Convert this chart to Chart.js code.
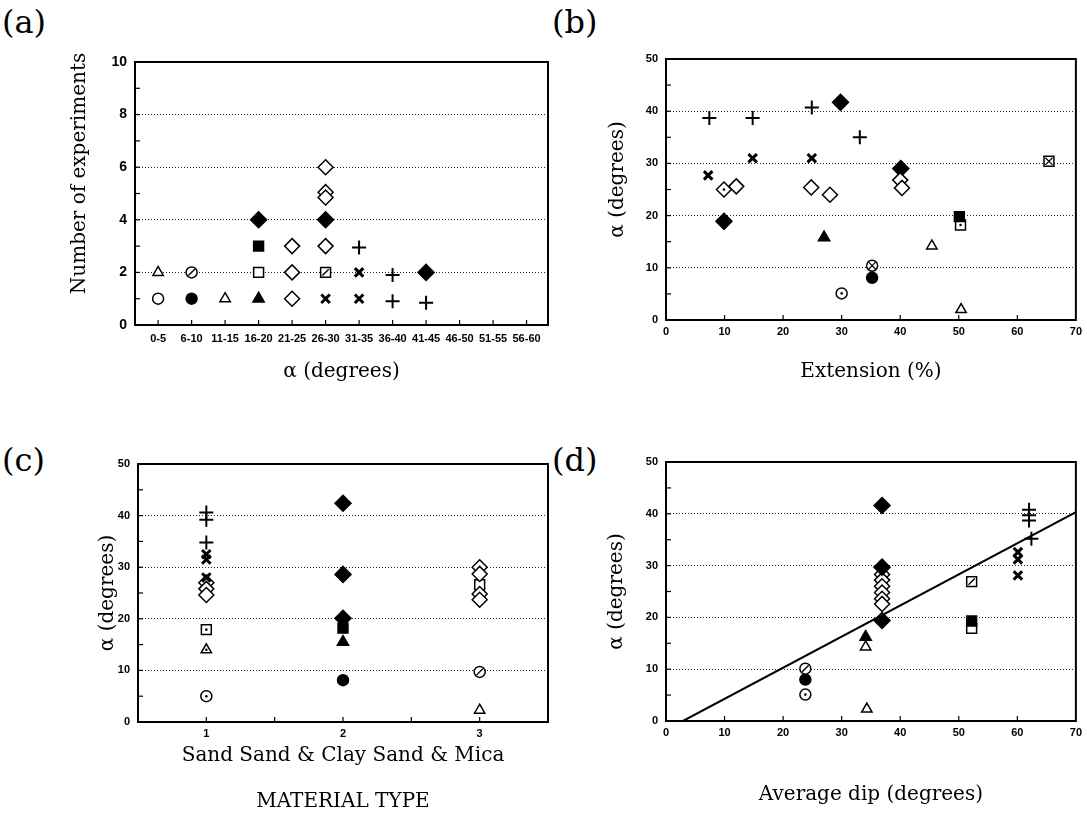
<!DOCTYPE html>
<html><head><meta charset="utf-8">
<script src="https://cdn.jsdelivr.net/npm/chart.js@4/dist/chart.umd.min.js"></script>
<style>
html,body{margin:0;padding:0;background:#fff;width:1087px;height:825px;overflow:hidden;position:relative;}
canvas{position:absolute;}
.lbl{position:absolute;font-family:'DejaVu Serif',serif;font-size:32px;color:#000;line-height:1;}
</style></head><body>
<div class="lbl" style="left:2px;top:6px">(a)</div>
<div class="lbl" style="left:552px;top:6px">(b)</div>
<div class="lbl" style="left:2px;top:444px">(c)</div>
<div class="lbl" style="left:552px;top:444px">(d)</div>
<canvas id="ca" width="560" height="420" style="left:0;top:0"></canvas>
<canvas id="cb" width="527" height="420" style="left:560px;top:0"></canvas>
<canvas id="cc" width="560" height="405" style="left:0;top:420px"></canvas>
<canvas id="cd" width="527" height="405" style="left:560px;top:420px"></canvas>
<script>
// ---------------- DATA ----------------
// (a) histogram of alpha classes: x = class index, y = number of experiments
const aCategories = ['0-5','6-10','11-15','16-20','21-25','26-30','31-35','36-40','41-45','46-50','51-55','56-60'];
const aOpenCircle = [[0,1]];
const aFilledCircle = [[1,1]];
const aSlashCircle = [[1,2]];
const aOpenTriangle = [[0,2],[2,1]];
const aFilledTriangle = [[3,1]];
const aOpenSquare = [[3,2]];
const aSlashSquare = [[5,2]];
const aFilledSquare = [[3,3]];
const aOpenDiamond = [[4,1],[4,2],[4,3],[5,3],[5,5.05],[5,4.85],[5,6]];
const aFilledDiamond = [[3,4],[5,4],[8,2]];
const aCrossX = [[5,1],[6,1],[6,2]];
const aPlus = [[6,2.95],[7,0.9],[7,1.9],[8,0.85]];

// (b) alpha vs extension (%)
const bPlus = [[7.4,38.7],[14.8,38.7],[24.9,40.7],[33.1,35.0]];
const bCrossX = [[7.2,27.7],[14.8,31.0],[24.9,31.0]];
const bOpenDiamond = [[12.0,25.6],[24.8,25.4],[28.0,24.0],[40.0,26.8],[40.3,25.3]];
const bDotDiamond = [[9.9,25.0]];
const bFilledDiamond = [[29.8,41.7],[40.1,29.0],[9.9,18.9]];
const bFilledTriangle = [[27.0,15.8]];
const bFilledSquare = [[50.1,19.8]];
const bDotSquare = [[50.3,18.2]];
const bXSquare = [[65.4,30.4]];
const bOpenTriangle = [[45.4,14.2],[50.4,2.0]];
const bXCircle = [[35.2,10.4]];
const bFilledCircle = [[35.2,8.1]];
const bDotCircle = [[30.0,5.1]];

// (c) alpha vs material type (1 Sand, 2 Sand & Clay, 3 Sand & Mica)
const cPlus = [[1,40.6],[1,39.2],[1,34.8]];
const cCrossX = [[1,32.5],[1,31.5],[1,28.0]];
const cOpenDiamond = [[1,27.0],[1,25.8],[1,24.6],[3,30.0],[3,28.7],[3,24.8],[3,23.7]];
const cOpenSquare = [[3,26.6]];
const cDotSquare = [[1,17.9]];
const cDotTriangle = [[1,14.0]];
const cDotCircle = [[1,5.0]];
const cFilledDiamond = [[2,42.4],[2,28.6],[2,20.1]];
const cFilledSquare = [[2,18.2]];
const cFilledTriangle = [[2,15.5]];
const cFilledCircle = [[2,8.1]];
const cSlashCircle = [[3,9.7]];
const cOpenTriangle = [[3,2.3]];

// (d) alpha vs average dip
const dFilledDiamond = [[36.9,41.6],[36.9,29.7],[36.9,19.4]];
const dPlus = [[62.0,40.8],[62.0,39.7],[62.0,38.7],[62.4,35.2]];
const dCrossX = [[60.1,32.6],[60.1,31.2],[60.1,28.1]];
const dOpenDiamond = [[36.9,28.3],[36.9,27.2],[36.9,26.0],[36.9,24.8],[36.9,23.6],[36.9,22.6]];
const dSlashSquare = [[52.2,26.9]];
const dFilledSquare = [[52.2,19.3]];
const dOpenSquare = [[52.2,17.9]];
const dFilledTriangle = [[34.1,16.2]];
const dOpenTriangle = [[34.1,14.3],[34.3,2.3]];
const dSlashCircle = [[23.8,10.1]];
const dFilledCircle = [[23.8,8.0]];
const dDotCircle = [[23.8,5.1]];
const dFitLine = [[2.9,0],[70,40.3]];

// ---------------- STYLES ----------------
const L = {
  oc:{ps:'circle',r:5.5,fill:'#fff',bw:1.5}, fc:{ps:'circle',r:5.5,fill:'#000',bw:1.5},
  ot:{ps:'triangle',r:6,fill:'#fff',bw:1.5}, ft:{ps:'triangle',r:6.5,fill:'#000',bw:1.5},
  os:{ps:'rect',r:7,fill:'#fff',bw:1.5}, fs:{ps:'rect',r:7,fill:'#000',bw:1.5},
  od:{ps:'rectRot',r:7.5,fill:'#fff',bw:1.5}, fd:{ps:'rectRot',r:8,fill:'#000',bw:1.5},
  x:{ps:'crossRot',r:6,fill:'#000',bw:3}, p:{ps:'cross',r:7,fill:'#000',bw:2},
  dot:{ps:'circle',r:1.3,fill:'#000',bw:0}, sl:{ps:'line',r:4.5,fill:'#000',bw:1.4,rot:-45},
  xin:{ps:'crossRot',r:5,fill:'#000',bw:1.2}
};
const M = {
  openCircle:[L.oc], filledCircle:[L.fc], dotCircle:[L.oc,L.dot], slashCircle:[L.oc,L.sl], xCircle:[L.oc,L.xin],
  openTriangle:[L.ot], filledTriangle:[L.ft], dotTriangle:[L.ot,L.dot],
  openSquare:[L.os], filledSquare:[L.fs], dotSquare:[L.os,L.dot], slashSquare:[L.os,L.sl], xSquare:[L.os,L.xin],
  openDiamond:[L.od], filledDiamond:[L.fd], dotDiamond:[L.od,L.dot],
  crossX:[L.x], plus:[L.p]
};
function build(series){
  const ds=[];
  series.forEach(([key,pts])=>{
    M[key].forEach((ly,i)=>{
      ds.push({type:'scatter',data:pts.map(p=>({x:p[0],y:p[1]})),pointStyle:ly.ps,pointRadius:ly.r,pointHoverRadius:ly.r,
        pointBackgroundColor:ly.fill,pointBorderColor:'#000',pointBorderWidth:ly.bw,pointRotation:ly.rot||0,showLine:false,order:i===0?2:1});
    });
  });
  return ds;
}
const tickFont = {family:"'Liberation Sans', Arial, sans-serif", weight:'bold', size:11};
const titleFont = {family:"'DejaVu Serif', serif", size:20};

const frame = {
  id:'frame',
  afterDraw(chart){
    const {ctx, chartArea:a} = chart;
    ctx.save(); ctx.strokeStyle='#000'; ctx.lineWidth=1.2;
    const xs=chart.scales.x, ys=chart.scales.y;
    xs.ticks.forEach(t=>{const p=xs.getPixelForValue(t.value); if(p<=a.left+2||p>=a.right-2) return;
      ctx.beginPath(); ctx.moveTo(p,a.bottom); ctx.lineTo(p,a.bottom-5); ctx.stroke();});
    ys.ticks.forEach(t=>{const p=ys.getPixelForValue(t.value); if(p>=a.bottom-2||p<=a.top+2) return;
      ctx.beginPath(); ctx.moveTo(a.left,p); ctx.lineTo(a.left+5,p); ctx.stroke();});
    ctx.lineWidth=2; ctx.strokeRect(a.left,a.top,a.right-a.left,a.bottom-a.top);
    ctx.restore();
  }
};

function yAxis(max, step, labelEvery, width, title, padTop, tsize){
  return {
    min:0, max:max,
    afterFit(s){ s.width = width; },
    ticks:{stepSize:step, color:'#000', font:Object.assign({},tickFont,{size:tsize}), padding:8,
      callback:v=> (Math.abs(v % labelEvery) < 1e-9 ? String(v) : '')},
    grid:{drawTicks:false, lineWidth:1,
      color:c=>{const v=c.tick?c.tick.value:0; return (Math.abs(v%labelEvery)<1e-9 && v>0 && v<max) ? '#222' : 'rgba(0,0,0,0)';}},
    border:{display:true,color:'#000',width:2,dash:[1,2]},
    title:{display:true,text:title,color:'#000',font:titleFont,padding:{top:padTop,bottom:0}}
  };
}

function makeChart(id, datasets, xOpts, yOpts, pad){
  return new Chart(document.getElementById(id), {
    type:'scatter',
    data:{datasets},
    options:{
      responsive:false, animation:false, devicePixelRatio:1,
      layout:{padding:pad},
      plugins:{legend:{display:false}, tooltip:{enabled:false}},
      scales:{x:xOpts, y:yOpts}
    },
    plugins:[frame]
  });
}

// (a)
makeChart('ca', build([
  ['openCircle',aOpenCircle],['filledCircle',aFilledCircle],['slashCircle',aSlashCircle],
  ['openTriangle',aOpenTriangle],['filledTriangle',aFilledTriangle],['openSquare',aOpenSquare],
  ['slashSquare',aSlashSquare],['filledSquare',aFilledSquare],['openDiamond',aOpenDiamond],
  ['filledDiamond',aFilledDiamond],['crossX',aCrossX],['plus',aPlus]
]), {
  type:'linear', min:-0.69, max:11.64,
  afterFit(s){ s.height = 95; },
  afterBuildTicks(s){ s.ticks = aCategories.map((c,i)=>({value:i})); },
  ticks:{color:'#000', font:tickFont, padding:7, autoSkip:false, maxRotation:0, minRotation:0,
    callback:v=>aCategories[Math.round(v)]},
  grid:{drawOnChartArea:false, drawTicks:false},
  border:{display:true,color:'#000',width:2},
  title:{display:true,text:'α (degrees)',color:'#000',font:titleFont,padding:{top:0,bottom:36}}
}, yAxis(10,1,2,135,'\u2003\u2003Number of experiments',68,14), {left:0,top:62,right:12,bottom:0});

// (b)
function xLin(height, title, pb){
  return {
    type:'linear', min:0, max:70,
    afterFit(s){ s.height = height; },
    ticks:{stepSize:10, color:'#000', font:tickFont, padding:5, maxRotation:0},
    grid:{drawOnChartArea:false, drawTicks:false},
    border:{display:true,color:'#000',width:2},
    title:{display:true,text:title,color:'#000',font:titleFont,padding:{top:0,bottom:pb}}
  };
}
makeChart('cb', build([
  ['plus',bPlus],['crossX',bCrossX],['openDiamond',bOpenDiamond],['dotDiamond',bDotDiamond],
  ['filledDiamond',bFilledDiamond],['filledTriangle',bFilledTriangle],['filledSquare',bFilledSquare],
  ['dotSquare',bDotSquare],['xSquare',bXSquare],['openTriangle',bOpenTriangle],['xCircle',bXCircle],
  ['filledCircle',bFilledCircle],['dotCircle',bDotCircle]
]), xLin(100,'Extension (%)',36), yAxis(50,5,10,106,'\u2003α (degrees)',46,11), {left:0,top:59,right:9,bottom:0});

// (c)
const cTicks = [1,1.5,2,2.5,3];
makeChart('cc', build([
  ['plus',cPlus],['crossX',cCrossX],['openDiamond',cOpenDiamond],['openSquare',cOpenSquare],
  ['dotSquare',cDotSquare],['dotTriangle',cDotTriangle],['dotCircle',cDotCircle],
  ['filledDiamond',cFilledDiamond],['filledSquare',cFilledSquare],['filledTriangle',cFilledTriangle],
  ['filledCircle',cFilledCircle],['slashCircle',cSlashCircle],['openTriangle',cOpenTriangle]
]), {
  type:'linear', min:0.5, max:3.5,
  afterFit(s){ s.height = 103; },
  afterBuildTicks(s){ s.ticks = cTicks.map(v=>({value:v})); },
  ticks:{color:'#000', font:tickFont, padding:5, autoSkip:false, maxRotation:0,
    callback:v=> Number.isInteger(v) ? String(v) : ''},
  grid:{drawOnChartArea:false, drawTicks:false},
  border:{display:true,color:'#000',width:2},
  title:{display:true,text:['Sand Sand & Clay Sand & Mica','MATERIAL TYPE'],color:'#000',
    font:Object.assign({},titleFont,{lineHeight:2.3}),padding:{top:0,bottom:0}}
}, yAxis(50,5,10,138,'α (degrees)',96,11), {left:0,top:44,right:12,bottom:0});

// (d)
const dDatasets = build([
  ['filledDiamond',dFilledDiamond],['plus',dPlus],['crossX',dCrossX],['openDiamond',dOpenDiamond],
  ['slashSquare',dSlashSquare],['filledSquare',dFilledSquare],['openSquare',dOpenSquare],
  ['filledTriangle',dFilledTriangle],['openTriangle',dOpenTriangle],['slashCircle',dSlashCircle],
  ['filledCircle',dFilledCircle],['dotCircle',dDotCircle]
]);
dDatasets.push({type:'line',data:dFitLine.map(p=>({x:p[0],y:p[1]})),borderColor:'#000',borderWidth:2,pointRadius:0,showLine:true,fill:false,order:3});
makeChart('cd', dDatasets, xLin(104,'Average dip (degrees)',18), yAxis(50,5,10,106,'α (degrees)',45,11), {left:0,top:42,right:9,bottom:0});
</script>
</body></html>
